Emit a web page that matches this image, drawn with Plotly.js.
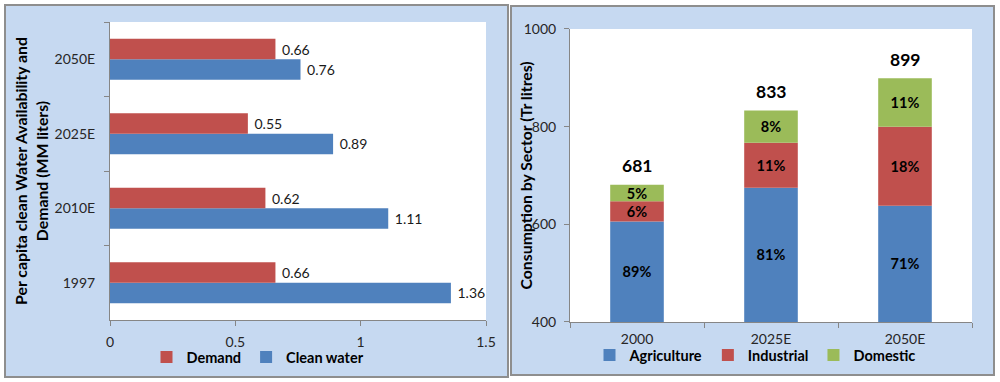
<!DOCTYPE html>
<html><head><meta charset="utf-8">
<script src="https://cdn.plot.ly/plotly-3.0.1.min.js"></script>
<style>html,body{margin:0;padding:0;background:#fff}#chart{width:1000px;height:382px}</style>
</head><body><div id="chart"></div>
<script>
// Left chart data (MM liters per capita)
const years = ['1997', '2010E', '2025E', '2050E'];
const cleanWater = [1.36, 1.11, 0.89, 0.76];
const demand = [0.66, 0.62, 0.55, 0.66];

// Right chart data (Tr litres)
const sectorYears = ['2000', '2025E', '2050E'];
const agriculture = [606, 675, 638];
const industrial = [41, 92, 162];
const domestic = [34, 66, 99];
const totals = [681, 833, 899];

const BLUE = '#4F81BD', RED = '#C0504D', GREEN = '#9BBB59';
const AXIS = '#868686';
const Y2_MIN = 400, Y2_MAX = 1000;   // right value-axis range
const pct = (arr) => arr.map((v, i) => Math.round(v / totals[i] * 100) + '%');
// bottom segment starts at the axis floor so its label sits in the visible part
const agriVisible = agriculture.map(v => v - Y2_MIN);
const indBase = agriculture.slice();
const domBase = agriculture.map((v, i) => v + industrial[i]);

const pctFont = {size: 14.5, color: '#000', weight: 'bold'};
const valFont = {size: 14, color: '#1a1a1a'};

const traces = [
  {type: 'bar', orientation: 'h', name: 'Clean water', y: years, x: cleanWater,
   xaxis: 'x', yaxis: 'y', marker: {color: BLUE}, legend: 'legend', legendrank: 2,
   texttemplate: '\u00A0%{x}', textposition: 'outside', cliponaxis: false, textfont: valFont},
  {type: 'bar', orientation: 'h', name: 'Demand', y: years, x: demand,
   xaxis: 'x', yaxis: 'y', marker: {color: RED}, legend: 'legend', legendrank: 1,
   texttemplate: '\u00A0%{x}', textposition: 'outside', cliponaxis: false, textfont: valFont},
  {type: 'bar', name: 'Agriculture', x: sectorYears, y: agriVisible, base: Y2_MIN,
   customdata: agriculture, hovertemplate: '%{customdata}',
   xaxis: 'x2', yaxis: 'y2', marker: {color: BLUE}, legend: 'legend2', offsetgroup: 's', width: 0.4,
   text: pct(agriculture), textposition: 'inside', insidetextanchor: 'middle', constraintext: 'none',
   textfont: pctFont},
  {type: 'bar', name: 'Industrial', x: sectorYears, y: industrial, base: indBase,
   xaxis: 'x2', yaxis: 'y2', marker: {color: RED}, legend: 'legend2', offsetgroup: 's', width: 0.4,
   text: pct(industrial), textposition: 'inside', insidetextanchor: 'middle', constraintext: 'none',
   textfont: pctFont},
  {type: 'bar', name: 'Domestic', x: sectorYears, y: domestic, base: domBase,
   xaxis: 'x2', yaxis: 'y2', marker: {color: GREEN}, legend: 'legend2', offsetgroup: 's', width: 0.4,
   text: pct(domestic), textposition: 'inside', insidetextanchor: 'middle', constraintext: 'none',
   textfont: pctFont}
];

// totals above the stacks (x given as category index of sectorYears)
const totalAnnotations = sectorYears.map((c, i) => ({
  x: i, y: totals[i], xref: 'x2', yref: 'y2', text: String(totals[i]),
  showarrow: false, yanchor: 'middle', yshift: 19,
  font: {size: 17.5, color: '#000', weight: 'bold'}
}));

const layout = {
  width: 1000, height: 382,
  margin: {l: 0, r: 0, t: 0, b: 0},
  paper_bgcolor: '#ffffff', plot_bgcolor: 'rgba(0,0,0,0)',
  font: {family: 'Lato, "Open Sans", sans-serif', size: 14, color: '#262626'},
  barmode: 'group', bargap: 0.45, bargroupgap: 0,
  showlegend: true,
  xaxis: {domain: [0.110, 0.486], anchor: 'y', range: [0, 1.5], tick0: 0, dtick: 0.5,
          ticks: 'outside', ticklen: 5, tickcolor: AXIS, showline: true, linecolor: AXIS,
          showgrid: false, zeroline: false, tickfont: {size: 14}, ticklabelstandoff: 4},
  yaxis: {domain: [0.1623, 0.9424], anchor: 'x', type: 'category',
          categoryorder: 'array', categoryarray: years, tickson: 'boundaries',
          ticks: 'outside', ticklen: 5, tickcolor: AXIS, showline: true, linecolor: AXIS,
          showgrid: false, zeroline: false, tickfont: {size: 14}, ticklabelstandoff: 11,
          title: {text: 'Per capita clean Water Availability and<br>Demand (MM liters)',
                  font: {size: 15.8, color: '#000', weight: 'bold'}, standoff: 2}},
  xaxis2: {domain: [0.570, 0.972], anchor: 'y2', type: 'category',
           categoryorder: 'array', categoryarray: sectorYears, tickson: 'boundaries',
           ticks: 'outside', ticklen: 5, tickcolor: AXIS, showline: true, linecolor: AXIS,
           showgrid: false, zeroline: false, tickfont: {size: 14}, ticklabelstandoff: 4},
  yaxis2: {domain: [0.1571, 0.9241], anchor: 'x2', range: [Y2_MIN, Y2_MAX], tick0: 400, dtick: 200,
           ticks: 'outside', ticklen: 5, tickcolor: AXIS, showline: true, linecolor: AXIS,
           showgrid: false, zeroline: false, tickfont: {size: 14}, ticklabelstandoff: 5},
  legend: {orientation: 'h', x: 0.258, xanchor: 'center', y: 1 - 357 / 382, yanchor: 'middle',
           bgcolor: 'rgba(0,0,0,0)', font: {size: 14.5, color: '#000', weight: 'bold'}, itemwidth: 30},
  legend2: {orientation: 'h', x: 0.755, xanchor: 'center', y: 1 - 355 / 382, yanchor: 'middle',
            bgcolor: 'rgba(0,0,0,0)', font: {size: 14.5, color: '#000', weight: 'bold'}, itemwidth: 30},
  shapes: [
    {type: 'rect', xref: 'paper', yref: 'paper', layer: 'below',
     x0: 0.005, x1: 0.508, y0: 1 - 377 / 382, y1: 1 - 5 / 382,
     fillcolor: '#C6D9F1', line: {color: '#8E8E8E', width: 2}},
    {type: 'rect', xref: 'paper', yref: 'paper', layer: 'below',
     x0: 0.511, x1: 0.994, y0: 1 - 375 / 382, y1: 1 - 6 / 382,
     fillcolor: '#C6D9F1', line: {color: '#8E8E8E', width: 2}},
    {type: 'rect', xref: 'x domain', yref: 'y domain', layer: 'below',
     x0: 0, x1: 1, y0: 0, y1: 1, fillcolor: '#ffffff', line: {width: 0}},
    {type: 'rect', xref: 'x2 domain', yref: 'y2 domain', layer: 'below',
     x0: 0, x1: 1, y0: 0, y1: 1, fillcolor: '#ffffff', line: {width: 0}}
  ],
  annotations: totalAnnotations.concat([
    {xref: 'paper', yref: 'y2 domain', x: 0.525, y: 0.5, xanchor: 'center', yanchor: 'middle',
     text: 'Consumption by Sector (Tr litres)', textangle: -90, showarrow: false,
     font: {size: 15.8, color: '#000', weight: 'bold'}}
  ])
};

Plotly.newPlot('chart', traces, layout, {displayModeBar: false, staticPlot: true});
</script>
</body></html>
